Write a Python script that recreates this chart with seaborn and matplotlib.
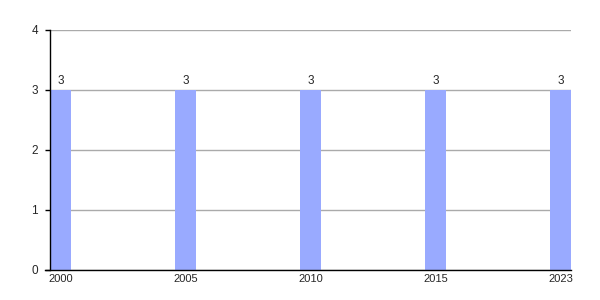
import matplotlib
matplotlib.use("Agg")
import matplotlib.pyplot as plt
import seaborn as sns
import pandas as pd

years = ["2000", "2005", "2010", "2015", "2023"]
values = [3, 3, 3, 3, 3]
y_ticks = [0, 1, 2, 3, 4]

sns.set_style("white")
plt.rcParams["font.family"] = ["Liberation Sans", "DejaVu Sans"]

df = pd.DataFrame({"year": years, "value": values})

fig = plt.figure(figsize=(6, 3), dpi=100)
ax = fig.add_axes([50 / 600, 30 / 300, 521 / 600, 240 / 300])
ax.set_axisbelow(True)

bw = 0.168
sns.barplot(data=df, x="year", y="value", color="#99aaff", width=bw,
            saturation=1, linewidth=0, edgecolor="none", ax=ax)

ax.set_xlim(-bw / 2, len(years) - 1 + bw / 2)
ax.set_ylim(0, 4)
ax.set_yticks(y_ticks)
ax.set_yticklabels([str(t) for t in y_ticks], fontsize=8.5)
ax.tick_params(axis="x", length=0, pad=3, labelsize=8)
ax.tick_params(axis="y", length=3.6, width=1, color="black", pad=5, left=True)
ax.set_xlabel("")
ax.set_ylabel("")

ax.yaxis.grid(True, color="#aaaaaa", linewidth=1)
ax.xaxis.grid(False)

for s in ["top", "right"]:
    ax.spines[s].set_visible(False)
for s in ["left", "bottom"]:
    ax.spines[s].set_color("black")
    ax.spines[s].set_linewidth(1)
ax.spines["bottom"].set_bounds(-bw / 2 - 5 / 125, len(years) - 1 + bw / 2)

for c in ax.containers:
    ax.bar_label(c, labels=[str(v) for v in values], padding=2, fontsize=8.5)

fig.savefig("out.png", dpi=100)
